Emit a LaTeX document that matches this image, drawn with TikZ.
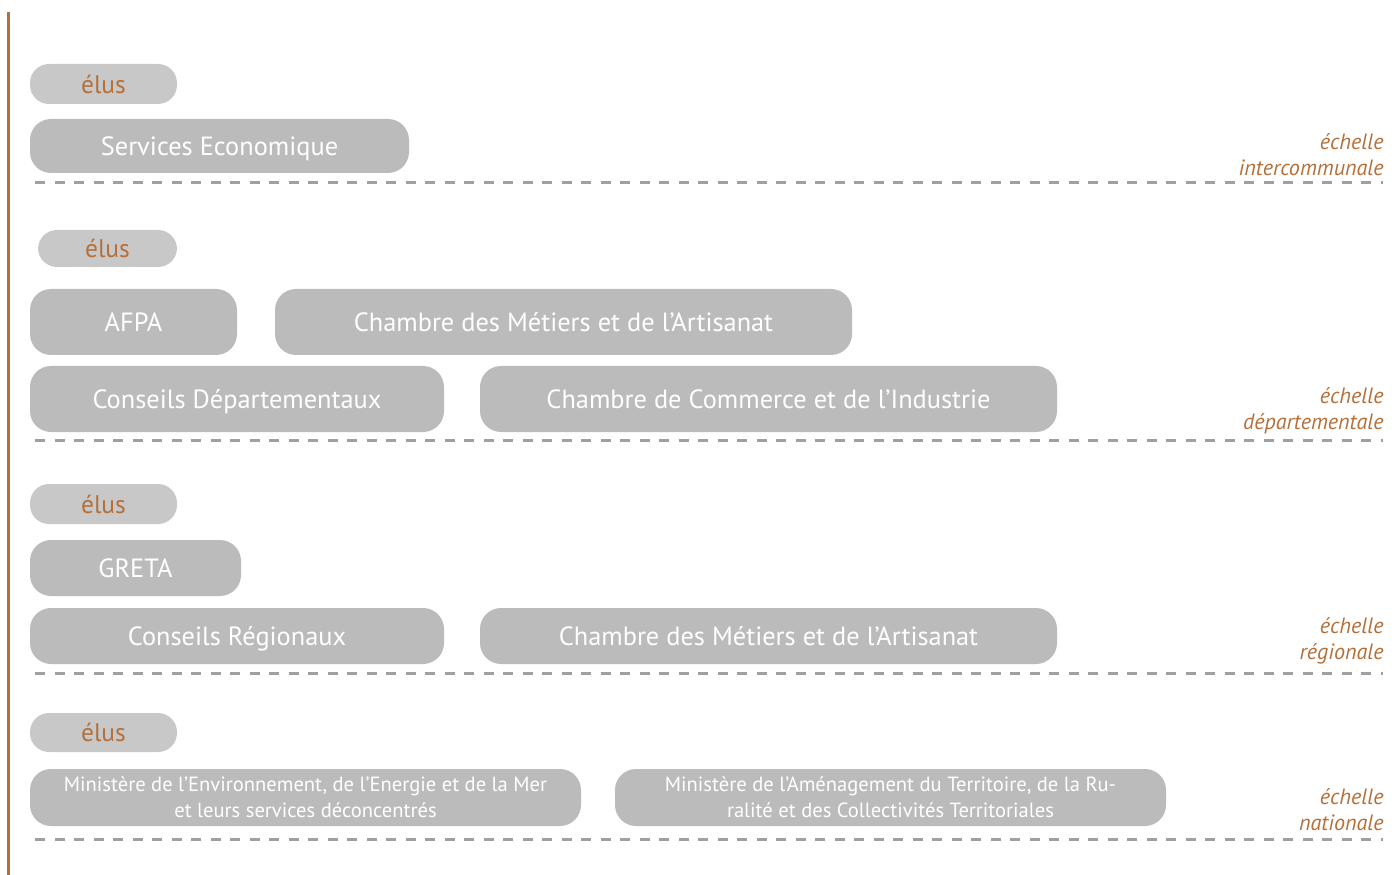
\documentclass[tikz,border=0pt]{standalone}
\usepackage{fontspec}
\setmainfont{PT Sans}
\definecolor{pillgray}{HTML}{BBBBBB}
\definecolor{elusgray}{HTML}{C8C8C9}
\definecolor{rust}{HTML}{B5703A}
\definecolor{dashgray}{HTML}{A0A0A0}
\begin{document}
\begin{tikzpicture}[
    pill/.style={fill=pillgray, rounded corners=0.42cm, text=white, inner sep=0pt,
        text depth=0pt, font=\fontsize{15}{18}\selectfont},
    eluspill/.style={fill=elusgray, rounded corners=0.38cm, text=rust, inner sep=0pt,
        minimum width=2.94cm, minimum height=0.8cm, font=\fontsize{14.5}{17}\selectfont},
    smallpill/.style={pill, align=center, font=\fontsize{11.7}{14.8}\selectfont},
    scalelabel/.style={anchor=east, align=right, text=rust, inner sep=0pt,
        font=\fontsize{12.6}{14.8}\selectfont\itshape},
    levelline/.style={dashgray, line width=0.06cm, dash pattern=on 0.2cm off 0.19cm}
]
    \useasboundingbox (0, 0) rectangle (28, -17.5);
    \draw[rust, line width=0.06cm] (0.18, -0.24) -- (0.18, -17.5);

    % intercommunale
    \node[eluspill] (elus1) at (2.07, -1.68) {élus};
    \node[pill, minimum width=7.58cm, minimum height=1.08cm] (services) at (4.39, -2.92) {Services Economique};
    \node[scalelabel] (scale1) at (27.68, -3.1) {échelle\\intercommunale};
    \draw[levelline] (0.7, -3.66) -- (27.66, -3.66);

    % departementale
    \node[eluspill, minimum width=2.78cm, minimum height=0.74cm] (elus2) at (2.15, -4.97) {élus};
    \node[pill, minimum width=4.14cm, minimum height=1.32cm] (afpa) at (2.67, -6.44) {AFPA};
    \node[pill, minimum width=11.54cm, minimum height=1.32cm] (cmadep) at (11.27, -6.44) {Chambre des Métiers et de l’Artisanat};
    \node[pill, minimum width=8.28cm, minimum height=1.32cm] (cdep) at (4.74, -7.98) {Conseils Départementaux};
    \node[pill, minimum width=11.54cm, minimum height=1.32cm] (cci) at (15.37, -7.98) {Chambre de Commerce et de l’Industrie};
    \node[scalelabel] (scale2) at (27.68, -8.21) {échelle\\départementale};
    \draw[levelline] (0.7, -8.8) -- (27.66, -8.8);

    % regionale
    \node[eluspill] (elus3) at (2.07, -10.08) {élus};
    \node[pill, minimum width=4.22cm, minimum height=1.12cm] (greta) at (2.71, -11.36) {GRETA};
    \node[pill, minimum width=8.28cm, minimum height=1.12cm] (creg) at (4.74, -12.72) {Conseils Régionaux};
    \node[pill, minimum width=11.54cm, minimum height=1.12cm] (cmareg) at (15.37, -12.72) {Chambre des Métiers et de l’Artisanat};
    \node[scalelabel] (scale3) at (27.68, -12.81) {échelle\\régionale};
    \draw[levelline] (0.7, -13.46) -- (27.66, -13.46);

    % nationale
    \node[eluspill, minimum height=0.78cm] (elus4) at (2.07, -14.65) {élus};
    \node[smallpill, minimum width=11.02cm, minimum height=1.14cm] (minenv) at (6.11, -15.95) {Ministère de l’Environnement, de l’Energie et de la Mer\\et leurs services déconcentrés};
    \node[smallpill, minimum width=11.02cm, minimum height=1.14cm] (minter) at (17.81, -15.95) {Ministère de l’Aménagement du Territoire, de la Ru-\\ralité et des Collectivités Territoriales};
    \node[scalelabel] (scale4) at (27.68, -16.19) {échelle\\nationale};
    \draw[levelline] (0.7, -16.78) -- (27.66, -16.78);
\end{tikzpicture}
\end{document}
